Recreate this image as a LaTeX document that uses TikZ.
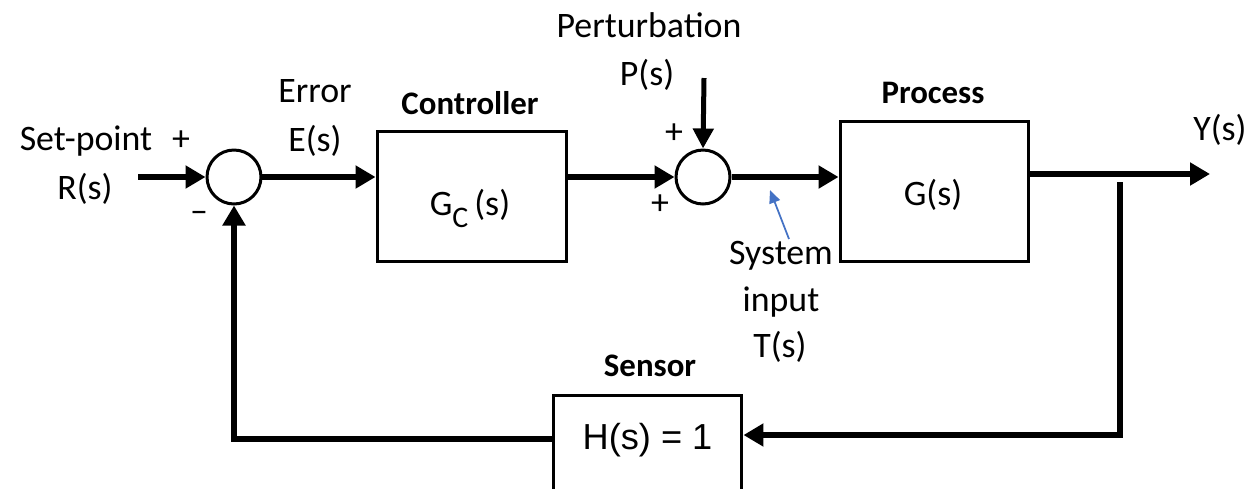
\documentclass[tikz,border=0pt]{standalone}
\usepackage{fontspec}
\setmainfont{Carlito}
\newfontfamily\arialf{Liberation Sans}
\usetikzlibrary{arrows.meta}
\tikzset{
  txt/.style={inner sep=0pt, font=\fontsize{20.4}{24}\selectfont},
  btxt/.style={inner sep=0pt, font=\fontsize{18.7}{22}\selectfont\bfseries},
  blk/.style={draw, line width=0.06cm, rectangle, inner sep=0pt},
  sumj/.style={draw, line width=0.06cm, circle, minimum size=1.08cm, inner sep=0pt},
  arr/.style={line width=0.12cm, -{Triangle[length=0.4cm,width=0.44cm]}},
  parr/.style={line width=0.1cm, -{Triangle[length=0.4cm,width=0.4cm]}},
  barr/.style={draw=bluearr, line width=0.035cm, -{Triangle[length=0.26cm,width=0.22cm]}},
}
\definecolor{bluearr}{HTML}{4472C4}
\begin{document}
\begin{tikzpicture}[x=0.02cm,y=-0.02cm]
\useasboundingbox (0,0) rectangle (1256,488);
\clip (0,0) rectangle (1256,488);
% blocks
\node[sumj] (s1) at (234,177) {};
\node[sumj] (s2) at (703,177) {};
\node[blk, minimum width=3.8cm, minimum height=2.62cm] (ctrl) at (472,196.5) {};
\node[txt] (gc) at (470,208) {G\raisebox{-0.7ex}{\fontsize{17}{20}\selectfont C}\,(s)};
\node[blk, minimum width=3.76cm, minimum height=2.82cm] (proc) at (934,191.5) {};
\node[txt] (gs) at (933,195) {G(s)};
\node[blk, minimum width=3.78cm, minimum height=2.6cm, anchor=north] (sensor) at (647.5,394) {};
\node[inner sep=0pt, font=\fontsize{20.6}{24}\selectfont\arialf] (hs) at (647.5,440) {H(s) = 1};
% labels
\node[txt] (sp) at (86,141) {Set-point};
\node[txt] (plus1) at (181,141) {+};
\node[txt] (rs) at (85,189) {R(s)};
\node[txt] (minus1) at (199,217) {--};
\node[txt] (err) at (315,91) {Error};
\node[txt] (es) at (315,141) {E(s)};
\node[btxt] (ctrll) at (470,103) {Controller};
\node[txt] (pert) at (649,25) {Perturbation};
\node[txt] (ps) at (647,75) {P(s)};
\node[txt] (plus2) at (674,134) {+};
\node[txt] (plus3) at (660,205) {+};
\node[btxt] (procl) at (933,93) {Process};
\node[txt] (ys) at (1220,130) {Y(s)};
\node[txt] (sys) at (781,256) {System};
\node[txt] (inp) at (781,302) {input};
\node[txt] (ts) at (780,347) {T(s)};
\node[btxt] (sensl) at (650,366) {Sensor};
% coordinates
\coordinate (rin) at (138,177);
\coordinate (pin) at (704,78);
\coordinate (yend) at (1210,174);
\coordinate (fbtop) at (1120,182);
\coordinate (fbc) at (1120,435);
\coordinate (fbl) at (234,439);
\coordinate (btail) at (789,239);
\coordinate (btip) at (770,190);
% connectors
\draw[arr] (rin) -- (s1.west);
\draw[arr] (s1.east) -- (ctrl.west |- s1.east);
\draw[arr] (ctrl.east |- s2.west) -- (s2.west);
\draw[parr] (pin) -- (s2.north);
\draw[arr] (s2.east) -- (proc.west |- s2.east);
\draw[arr] (proc.east |- yend) -- (yend);
\draw[arr] (fbtop) -- (fbc) -- (sensor.east |- fbc);
\draw[arr] (sensor.west |- fbl) -- (fbl) -- (s1.south);
\draw[barr] (btail) -- (btip);
\end{tikzpicture}
\end{document}
